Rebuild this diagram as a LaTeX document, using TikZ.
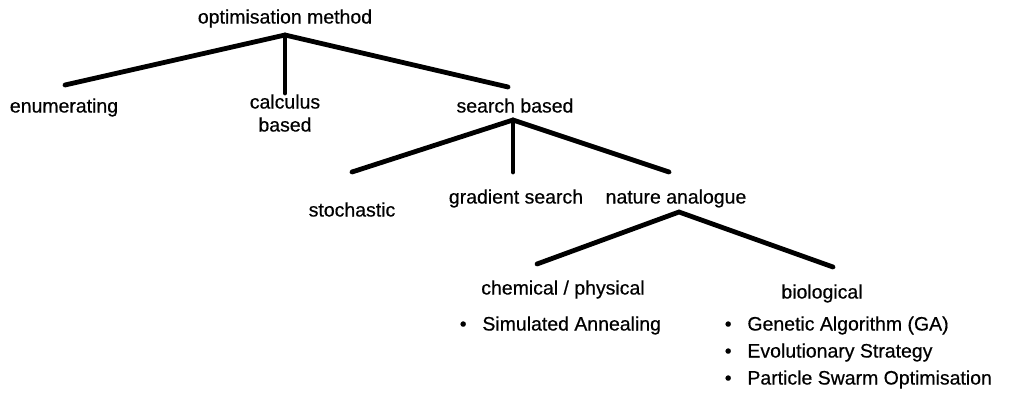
\documentclass[tikz,border=0pt]{standalone}
\usepackage{fontspec}
\setmainfont{Liberation Sans}[FakeBold=0.5]
\newcommand{\bul}{\makebox[17pt][l]{•}}
\begin{document}
\begin{tikzpicture}[x=0.75pt,y=-0.75pt,
  lbl/.style={inner sep=0pt, font=\fontsize{14.6}{17.25}\selectfont, anchor=mid},
  item/.style={lbl, anchor=mid west},
  branch/.style={line width=3.6pt, line cap=round, line join=miter}]
\useasboundingbox (0,0) rectangle (1009,400);
% labels
\node[lbl] (root) at (285,20) {optimisation method};
\node[lbl] (enum) at (64,109) {enumerating};
\node[lbl] (calc) at (285,105) {\begin{tabular}[t]{@{}c@{}}calculus\\based\end{tabular}};
\node[lbl] (search) at (515,109) {search based};
\node[lbl] (stoch) at (352,213) {stochastic};
\node[lbl] (grad) at (516,200) {gradient search};
\node[lbl] (nature) at (676,200) {nature analogue};
\node[lbl] (chem) at (563,291) {chemical / physical};
\node[lbl] (bio) at (822,295) {biological};
\node[item] (sa) at (459.5,327) {\bul Simulated Annealing};
\node[item] (ga) at (724.5,327) {\bul Genetic Algorithm (GA)};
\node[item] (es) at (724.5,354) {\bul Evolutionary Strategy};
\node[item] (pso) at (724.5,381) {\bul Particle Swarm Optimisation};
% joints and branch ends
\coordinate (j0) at (285,35);
\coordinate (e0a) at (65,85);
\coordinate (e0b) at (285,93);
\coordinate (e0c) at (508,87);
\coordinate (j1) at (513,120);
\coordinate (e1a) at (352,172);
\coordinate (e1b) at (513,172);
\coordinate (e1c) at (669,172);
\coordinate (j2) at (679,212);
\coordinate (e2a) at (537,264);
\coordinate (e2b) at (833,267);
% branches
\draw[branch] (e0a) -- (j0) -- (e0c);
\draw[branch] (j0) -- (e0b);
\draw[branch] (e1a) -- (j1) -- (e1c);
\draw[branch] (j1) -- (e1b);
\draw[branch] (e2a) -- (j2) -- (e2b);
\end{tikzpicture}
\end{document}
